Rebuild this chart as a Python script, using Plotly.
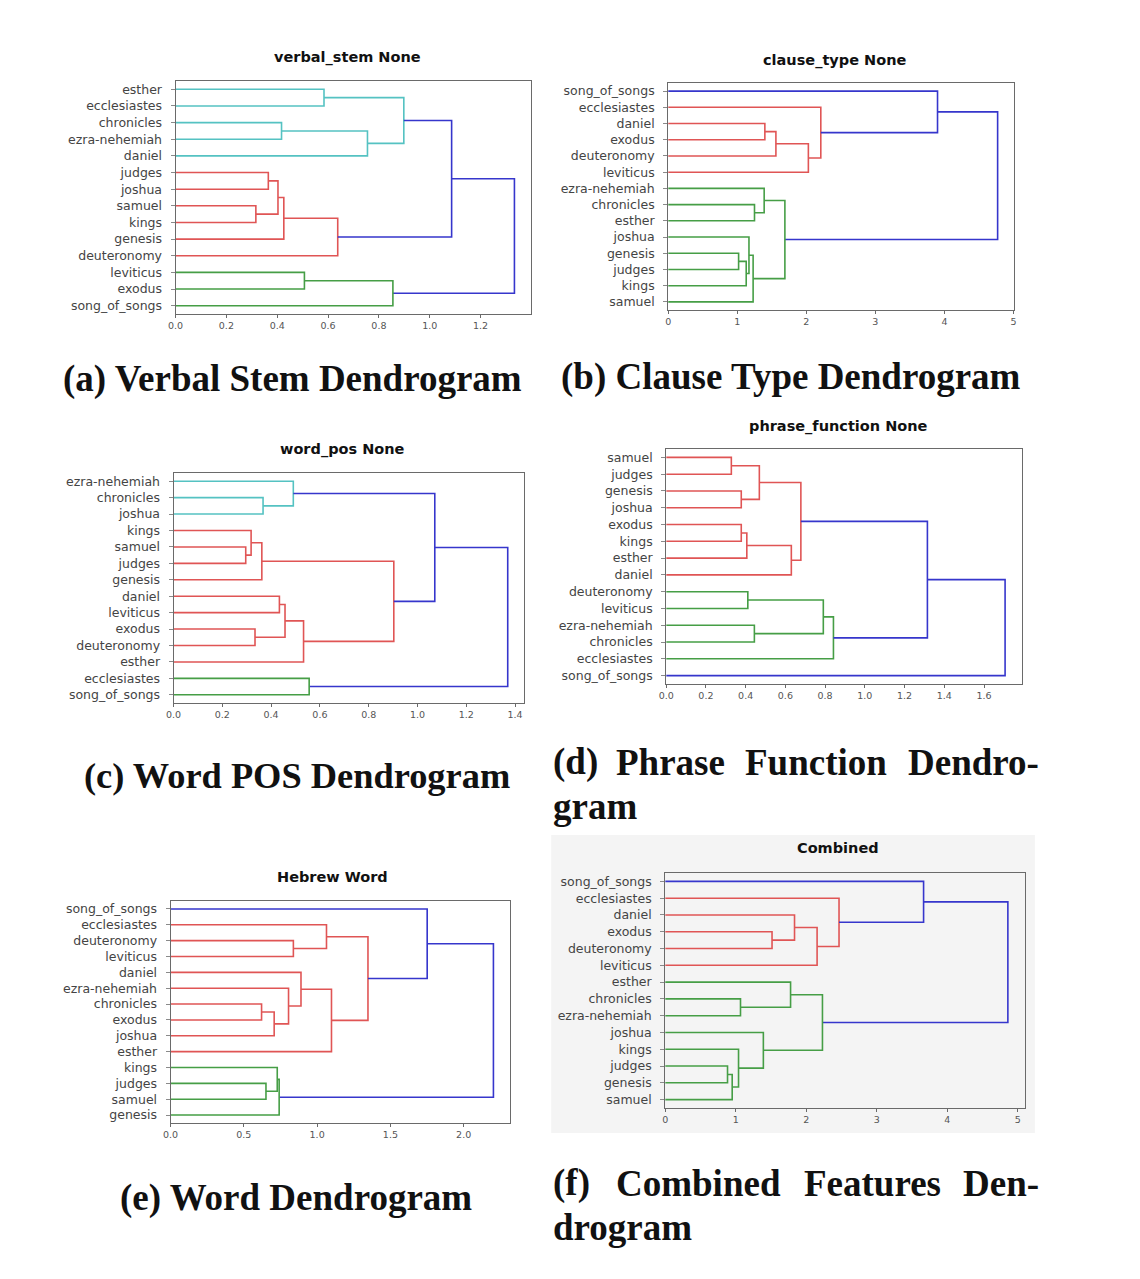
import plotly.graph_objects as go

W, H = 1140, 1279

# ---------------- data ----------------
# leaves listed top-to-bottom; links: (child_a, child_b, height, colour key)
# child = leaf name (str) or index of an earlier link (int)

a_title = "verbal_stem None"
a_leaves = ["esther", "ecclesiastes", "chronicles", "ezra-nehemiah", "daniel",
            "judges", "joshua", "samuel", "kings", "genesis", "deuteronomy",
            "leviticus", "exodus", "song_of_songs"]
a_links = [("esther", "ecclesiastes", 0.584, "c"),
           ("chronicles", "ezra-nehemiah", 0.417, "c"),
           (1, "daniel", 0.755, "c"),
           (0, 2, 0.898, "c"),
           ("judges", "joshua", 0.365, "r"),
           ("samuel", "kings", 0.316, "r"),
           (4, 5, 0.403, "r"),
           (6, "genesis", 0.426, "r"),
           (7, "deuteronomy", 0.638, "r"),
           (3, 8, 1.086, "b"),
           ("leviticus", "exodus", 0.507, "g"),
           (10, "song_of_songs", 0.855, "g"),
           (9, 11, 1.333, "b")]
a_ticks = [0.0, 0.2, 0.4, 0.6, 0.8, 1.0, 1.2]

b_title = "clause_type None"
b_leaves = ["song_of_songs", "ecclesiastes", "daniel", "exodus", "deuteronomy",
            "leviticus", "ezra-nehemiah", "chronicles", "esther", "joshua",
            "genesis", "judges", "kings", "samuel"]
b_links = [("daniel", "exodus", 1.40, "r"),
           (0, "deuteronomy", 1.56, "r"),
           (1, "leviticus", 2.03, "r"),
           ("ecclesiastes", 2, 2.21, "r"),
           ("song_of_songs", 3, 3.90, "b"),
           ("chronicles", "esther", 1.25, "g"),
           ("ezra-nehemiah", 5, 1.39, "g"),
           ("genesis", "judges", 1.02, "g"),
           (7, "kings", 1.13, "g"),
           ("joshua", 8, 1.17, "g"),
           (9, "samuel", 1.23, "g"),
           (6, 10, 1.69, "g"),
           (4, 11, 4.77, "b")]
b_ticks = [0, 1, 2, 3, 4, 5]

c_title = "word_pos None"
c_leaves = ["ezra-nehemiah", "chronicles", "joshua", "kings", "samuel", "judges",
            "genesis", "daniel", "leviticus", "exodus", "deuteronomy", "esther",
            "ecclesiastes", "song_of_songs"]
c_links = [("chronicles", "joshua", 0.367, "c"),
           ("ezra-nehemiah", 0, 0.491, "c"),
           ("samuel", "judges", 0.296, "r"),
           ("kings", 2, 0.318, "r"),
           (3, "genesis", 0.362, "r"),
           ("exodus", "deuteronomy", 0.334, "r"),
           ("daniel", "leviticus", 0.434, "r"),
           (6, 5, 0.457, "r"),
           (7, "esther", 0.533, "r"),
           (4, 8, 0.903, "r"),
           (1, 9, 1.071, "b"),
           ("ecclesiastes", "song_of_songs", 0.556, "g"),
           (10, 11, 1.370, "b")]
c_ticks = [0.0, 0.2, 0.4, 0.6, 0.8, 1.0, 1.2, 1.4]

d_title = "phrase_function None"
d_leaves = ["samuel", "judges", "genesis", "joshua", "exodus", "kings", "esther",
            "daniel", "deuteronomy", "leviticus", "ezra-nehemiah", "chronicles",
            "ecclesiastes", "song_of_songs"]
d_links = [("samuel", "judges", 0.328, "r"),
           ("genesis", "joshua", 0.378, "r"),
           (0, 1, 0.469, "r"),
           ("exodus", "kings", 0.378, "r"),
           (3, "esther", 0.406, "r"),
           (4, "daniel", 0.630, "r"),
           (2, 5, 0.678, "r"),
           ("deuteronomy", "leviticus", 0.411, "g"),
           ("ezra-nehemiah", "chronicles", 0.444, "g"),
           (7, 8, 0.791, "g"),
           (9, "ecclesiastes", 0.842, "g"),
           (6, 10, 1.315, "b"),
           (11, "song_of_songs", 1.706, "b")]
d_ticks = [0.0, 0.2, 0.4, 0.6, 0.8, 1.0, 1.2, 1.4, 1.6]

e_title = "Hebrew Word"
e_leaves = ["song_of_songs", "ecclesiastes", "deuteronomy", "leviticus", "daniel",
            "ezra-nehemiah", "chronicles", "exodus", "joshua", "esther", "kings",
            "judges", "samuel", "genesis"]
e_links = [("deuteronomy", "leviticus", 0.838, "r"),
           ("ecclesiastes", 0, 1.064, "r"),
           ("chronicles", "exodus", 0.621, "r"),
           (2, "joshua", 0.707, "r"),
           ("ezra-nehemiah", 3, 0.805, "r"),
           ("daniel", 4, 0.890, "r"),
           (5, "esther", 1.098, "r"),
           (1, 6, 1.347, "r"),
           ("song_of_songs", 7, 1.751, "b"),
           ("judges", "samuel", 0.651, "g"),
           ("kings", 9, 0.728, "g"),
           (10, "genesis", 0.741, "g"),
           (8, 11, 2.203, "b")]
e_ticks = [0.0, 0.5, 1.0, 1.5, 2.0]

f_title = "Combined"
f_leaves = ["song_of_songs", "ecclesiastes", "daniel", "exodus", "deuteronomy",
            "leviticus", "esther", "chronicles", "ezra-nehemiah", "joshua", "kings",
            "judges", "genesis", "samuel"]
f_links = [("exodus", "deuteronomy", 1.515, "r"),
           ("daniel", 0, 1.834, "r"),
           (1, "leviticus", 2.154, "r"),
           ("ecclesiastes", 2, 2.465, "r"),
           ("song_of_songs", 3, 3.664, "b"),
           ("chronicles", "ezra-nehemiah", 1.068, "g"),
           ("esther", 5, 1.778, "g"),
           ("judges", "genesis", 0.884, "g"),
           (7, "samuel", 0.950, "g"),
           ("kings", 8, 1.040, "g"),
           ("joshua", 9, 1.392, "g"),
           (6, 10, 2.230, "g"),
           (4, 11, 4.859, "b")]
f_ticks = [0, 1, 2, 3, 4, 5]

# ---------------- styling / layout ----------------
COLORS = {"c": "#55c2c2", "r": "#e05555", "g": "#469e46", "b": "#3636cc"}

panels = [
    # title, leaves, links, ticks, tickformat, plot box (px: x0, x1, y0, y1), title (x, y) px
    (a_title, a_leaves, a_links, a_ticks, ".1f", (169, 528, 81, 314), (342, 57)),
    (b_title, b_leaves, b_links, b_ticks, "d", (666, 1015, 83, 310), (834, 60)),
    (c_title, c_leaves, c_links, c_ticks, ".1f", (167, 521, 473, 703), (337, 450)),
    (d_title, d_leaves, d_links, d_ticks, ".1f", (664, 1023, 449, 684), (838, 426)),
    (e_title, e_leaves, e_links, e_ticks, ".1f", (164, 506, 901, 1123), (327, 877)),
    (f_title, f_leaves, f_links, f_ticks, "d", (663, 1026, 873, 1108), (837, 848)),
]


def px_x(p):
    return p / W


def px_y(p):
    return 1 - p / H


fig = go.Figure()
annotations = []
shapes = []

# light grey figure background behind the "Combined" panel
shapes.append(dict(type="rect", xref="paper", yref="paper", layer="below",
                   x0=px_x(548), x1=px_x(1036), y0=px_y(1133), y1=px_y(835),
                   fillcolor="#f4f4f4", line=dict(width=0)))

for i, (title, leaves, links, ticks, tfmt, box, tpos) in enumerate(panels):
    n = len(leaves)
    ax = "" if i == 0 else str(i + 1)
    # leaf positions: top leaf at top
    pos = {name: (0.0, n - 0.5 - k) for k, name in enumerate(leaves)}
    node = []

    def get(ch):
        return pos[ch] if isinstance(ch, str) else node[ch]

    segs = {}
    for (ca, cb, h, col) in links:
        xa, ya = get(ca)
        xb, yb = get(cb)
        xs, ys = segs.setdefault(col, ([], []))
        xs += [xa, h, h, xb, None]
        ys += [ya, ya, yb, yb, None]
        node.append((h, (ya + yb) / 2))
    for col, (xs, ys) in segs.items():
        fig.add_trace(go.Scatter(x=xs, y=ys, mode="lines",
                                 line=dict(color=COLORS[col], width=1.6),
                                 xaxis="x" + ax, yaxis="y" + ax,
                                 hoverinfo="skip", showlegend=False))
    maxh = max(l[2] for l in links)
    x0, x1, y0, y1 = box
    fig.layout["xaxis" + ax] = dict(
        domain=[px_x(x0), px_x(x1)], anchor="y" + ax,
        range=[0, maxh * 1.05], tickvals=ticks, tickformat=tfmt,
        showgrid=False, zeroline=False, showline=True, mirror=True,
        linecolor="#6a6a6a", linewidth=1, ticks="outside", ticklen=3,
        tickcolor="#6a6a6a", tickfont=dict(family="DejaVu Sans", size=9.5, color="#555"))
    fig.layout["yaxis" + ax] = dict(
        domain=[px_y(y1), px_y(y0)], anchor="x" + ax,
        range=[0, n], tickvals=[n - 0.5 - k for k in range(n)], ticktext=leaves,
        showgrid=False, zeroline=False, showline=True, mirror=True,
        linecolor="#6a6a6a", linewidth=1, ticks="outside", ticklen=4,
        tickcolor="#8a8a8a", ticklabelstandoff=6,
        tickfont=dict(family="DejaVu Sans", size=12.5, color="#444"))
    annotations.append(dict(text="<b>" + title + "</b>", xref="paper", yref="paper",
                            x=px_x(tpos[0]), y=px_y(tpos[1]), showarrow=False,
                            xanchor="center", yanchor="middle",
                            font=dict(family="DejaVu Sans", size=14.5, color="#111")))

# ---------------- captions ----------------
def cap(text, x, y, anchor="left", size=37):
    annotations.append(dict(text="<b>" + text + "</b>", xref="paper", yref="paper",
                            x=px_x(x), y=px_y(y), showarrow=False,
                            xanchor=anchor, yanchor="middle",
                            font=dict(family="Liberation Serif", size=size, color="#111")))


cap("(a) Verbal Stem Dendrogram", 287, 379, "center")
cap("(b) Clause Type Dendrogram", 790, 377, "center")
cap("(c) Word POS Dendrogram", 292, 776, "center", 36.4)
cap("(d)", 548, 762)
cap("Phrase", 611, 762)
cap("Function", 741, 762)
cap("Dendro-", 1042, 762, "right")
cap("gram", 548, 806)
cap("(e) Word Dendrogram", 291, 1198, "center")
cap("(f)", 548, 1183)
cap("Combined", 611, 1183)
cap("Features", 801, 1183)
cap("Den-", 1042, 1183, "right")
cap("drogram", 548, 1227)

fig.update_layout(width=W, height=H, margin=dict(l=0, r=0, t=0, b=0),
                  paper_bgcolor="white", plot_bgcolor="white",
                  annotations=annotations, shapes=shapes, showlegend=False)

fig.write_html("out.html", config={"displayModeBar": False},
               post_script="document.body.style.margin='0';")
